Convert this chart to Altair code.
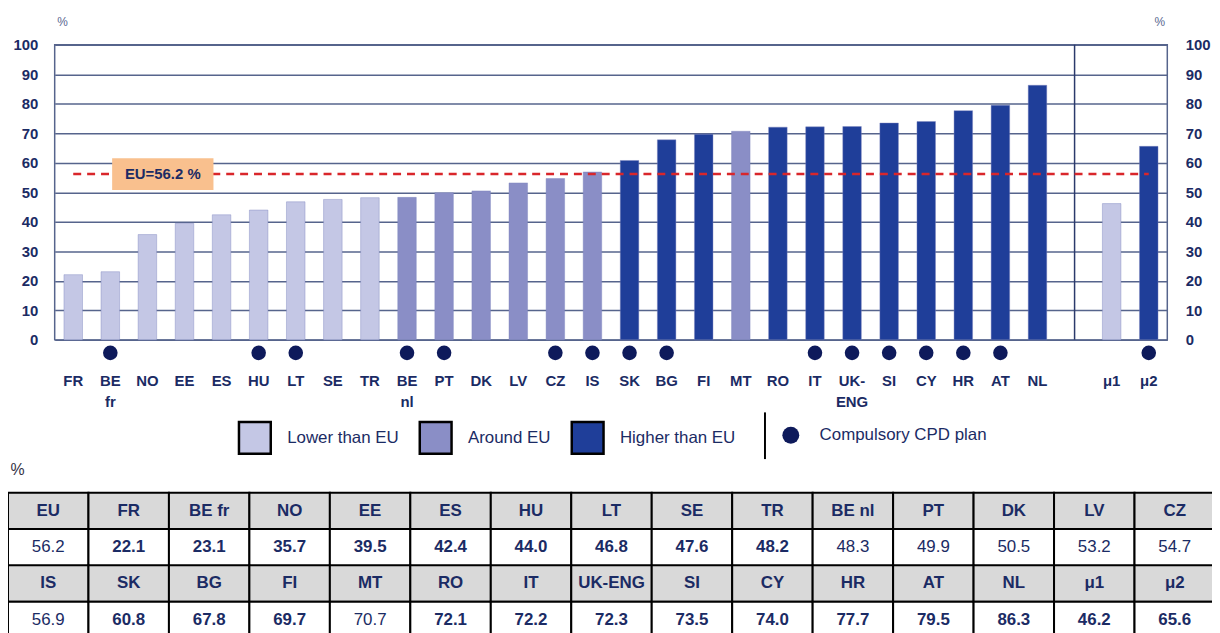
import altair as alt
import pandas as pd

# ---------------- data ----------------
countries = ["FR", "BE fr", "NO", "EE", "ES", "HU", "LT", "SE", "TR", "BE nl", "PT", "DK", "LV",
             "CZ", "IS", "SK", "BG", "FI", "MT", "RO", "IT", "UK-ENG", "SI", "CY", "HR", "AT", "NL"]
country_values = [22.1, 23.1, 35.7, 39.5, 42.4, 44.0, 46.8, 47.6, 48.2, 48.3, 49.9, 50.5, 53.2,
                  54.7, 56.9, 60.8, 67.8, 69.7, 70.7, 72.1, 72.2, 72.3, 73.5, 74.0, 77.7, 79.5, 86.3]
country_groups = ["Lower than EU"] * 9 + ["Around EU"] * 6 + ["Higher than EU"] * 3 + \
                 ["Around EU"] + ["Higher than EU"] * 8
avg_labels = ["μ1", "μ2"]
avg_values = [46.2, 65.6]
avg_groups = ["Lower than EU", "Higher than EU"]
eu_value = 56.2
compulsory = ["BE fr", "HU", "LT", "BE nl", "PT", "CZ", "IS", "SK", "BG", "IT", "UK-ENG",
              "SI", "CY", "HR", "AT", "μ2"]
# two-line tick labels of the category axis
tick_line1 = ["FR", "BE", "NO", "EE", "ES", "HU", "LT", "SE", "TR", "BE", "PT", "DK", "LV",
              "CZ", "IS", "SK", "BG", "FI", "MT", "RO", "IT", "UK-", "SI", "CY", "HR", "AT", "NL",
              "μ1", "μ2"]
tick_line2 = ["", "fr", "", "", "", "", "", "", "", "nl", "", "", "", "", "", "", "", "", "", "",
              "", "ENG", "", "", "", "", "", "", ""]
group_names = ["Lower than EU", "Around EU", "Higher than EU"]
group_colors = ["#C4C7E5", "#8A8EC6", "#1F3E99"]
y_ticks = [0, 10, 20, 30, 40, 50, 60, 70, 80, 90, 100]

table_row1_labels = ["EU"] + countries[:14]
table_row1_values = [eu_value] + country_values[:14]
table_row2_labels = countries[14:] + avg_labels
table_row2_values = country_values[14:] + avg_values

# ---------------- styles ----------------
NAVY = "#1B2B64"
GRID = "#56648C"
SANS = "Liberation Sans, Arial, sans-serif"

x_domain = countries + ["_gap"] + avg_labels
x_scale = alt.Scale(domain=x_domain, paddingInner=0.5, paddingOuter=0.25)
y_scale = alt.Scale(domain=[0, 100])

bars_df = pd.DataFrame({
    "category": countries + avg_labels,
    "value": country_values + avg_values,
    "group": country_groups + avg_groups,
})
ticks_df = pd.DataFrame({"category": countries + avg_labels, "l1": tick_line1, "l2": tick_line2})
dots_df = pd.DataFrame({"category": compulsory, "plan": ["Compulsory CPD plan"] * len(compulsory)})
eu_line_df = pd.DataFrame({"category": [countries[0], avg_labels[-1]], "value": [eu_value, eu_value]})
eu_box_df = pd.DataFrame({"category": ["NO"], "value": [eu_value], "top": [61.6], "bottom": [50.8],
                          "label": ["EU=56.2 %"]})
sep_df = pd.DataFrame({"category": ["_gap"], "lo": [0], "hi": [100]})

bars = alt.Chart(bars_df).mark_bar(stroke="#7E85BF", strokeWidth=0.6, strokeOpacity=0.7).encode(
    x=alt.X("category:N", scale=x_scale, sort=x_domain, axis=None),
    y=alt.Y("value:Q", scale=y_scale,
            axis=alt.Axis(values=y_ticks, title="%", titleAngle=0, titleX=2, titleY=-23,
                          titleAlign="left", titleBaseline="middle", titleFont=SANS,
                          titleFontSize=12, titleFontWeight="normal", titleColor="#5A6890",
                          grid=True, gridColor=GRID, gridWidth=1.5, gridOpacity=1,
                          domain=False, ticks=False, labelPadding=17, labelFont=SANS,
                          labelFontSize=15, labelFontWeight="bold", labelColor=NAVY)),
    color=alt.Color("group:N", scale=alt.Scale(domain=group_names, range=group_colors),
                    legend=alt.Legend(title=None, orient="none", legendX=184, legendY=378,
                                      direction="horizontal", symbolType="square", symbolSize=1024,
                                      symbolStrokeColor="black", symbolStrokeWidth=2.5,
                                      labelFont=SANS, labelFontSize=17, labelColor=NAVY,
                                      labelOffset=15, columnPadding=15, padding=0, labelLimit=400)),
)

right_axis = alt.Chart(bars_df).mark_rule(opacity=0).encode(
    y=alt.Y("value:Q", scale=y_scale,
            axis=alt.Axis(orient="right", values=y_ticks, title="%", titleAngle=0, titleX=-8,
                          titleY=-23, titleAlign="center", titleBaseline="middle", titleFont=SANS,
                          titleFontSize=12, titleFontWeight="normal", titleColor="#5A6890",
                          grid=False, domain=False, ticks=False, labelPadding=18, labelFont=SANS,
                          labelFontSize=15, labelFontWeight="bold", labelColor=NAVY)),
)

separator = alt.Chart(sep_df).mark_rule(color="#2B3A6B", strokeWidth=1.5).encode(
    x=alt.X("category:N", scale=x_scale, sort=x_domain, axis=None),
    y=alt.Y("lo:Q", scale=y_scale, axis=None),
    y2="hi:Q",
)

eu_line = alt.Chart(eu_line_df).mark_line(color="#D9262B", strokeDash=[8, 6], strokeWidth=2.5).encode(
    x=alt.X("category:N", scale=x_scale, sort=x_domain, axis=None),
    y=alt.Y("value:Q", scale=y_scale, axis=None),
)

eu_box = alt.Chart(eu_box_df).mark_bar(color="#F9C08E", size=102, xOffset=15.5).encode(
    x=alt.X("category:N", scale=x_scale, sort=x_domain, axis=None),
    y=alt.Y("top:Q", scale=y_scale, axis=None),
    y2="bottom:Q",
)

eu_text = alt.Chart(eu_box_df).mark_text(font=SANS, fontSize=15, fontWeight="bold", color=NAVY,
                                         dx=15.5, baseline="middle").encode(
    x=alt.X("category:N", scale=x_scale, sort=x_domain, axis=None),
    y=alt.Y("value:Q", scale=y_scale, axis=None),
    text="label:N",
)

dots = alt.Chart(dots_df).mark_point(filled=True, size=215, color="#0E1A5B", opacity=1).encode(
    x=alt.X("category:N", scale=x_scale, sort=x_domain, axis=None),
    y=alt.YDatum(-4.4, scale=y_scale, axis=None),
    shape=alt.Shape("plan:N", scale=alt.Scale(range=["circle"]),
                    legend=alt.Legend(title=None, orient="none", legendX=732, legendY=384,
                                      symbolType="circle", symbolSize=290, symbolFillColor="#2F3163",
                                      symbolStrokeWidth=0, labelFont=SANS, labelFontSize=17,
                                      labelColor=NAVY, labelOffset=20, padding=0, labelLimit=400)),
)

tick_text1 = alt.Chart(ticks_df).mark_text(font=SANS, fontSize=15, fontWeight="bold", color=NAVY,
                                           baseline="middle").encode(
    x=alt.X("category:N", scale=x_scale, sort=x_domain, axis=None),
    y=alt.YDatum(-13.9, scale=y_scale, axis=None),
    text="l1:N",
)
tick_text2 = alt.Chart(ticks_df).mark_text(font=SANS, fontSize=15, fontWeight="bold", color=NAVY,
                                           baseline="middle").encode(
    x=alt.X("category:N", scale=x_scale, sort=x_domain, axis=None),
    y=alt.YDatum(-21.0, scale=y_scale, axis=None),
    text="l2:N",
)

legend_sep = alt.Chart(pd.DataFrame({"k": [0]})).mark_rule(color="black", strokeWidth=2).encode(
    x=alt.value(715), y=alt.value(370), y2=alt.value(417),
)

main = alt.layer(bars, right_axis, separator, eu_line, eu_box, eu_text, dots, tick_text1, tick_text2,
                 legend_sep).resolve_axis(y="independent")

# ---------------- table ----------------
grp_of = dict(zip(countries + avg_labels, country_groups + avg_groups))
rows = []
for r, (labs, vals) in enumerate([(table_row1_labels, table_row1_values),
                                  (table_row2_labels, table_row2_values)]):
    for c, (lab, val) in enumerate(zip(labs, vals)):
        rows.append({"c0": c, "c1": c + 1, "r0": 2 * r, "r1": 2 * r + 1, "kind": "header",
                     "text": lab, "bold": True})
        bold = lab != "EU" and grp_of.get(lab) != "Around EU"
        rows.append({"c0": c, "c1": c + 1, "r0": 2 * r + 1, "r1": 2 * r + 2, "kind": "value",
                     "text": f"{val:.1f}", "bold": bold})
table_df = pd.DataFrame(rows)
table_df["cx"] = table_df["c0"] + 0.5
table_df["cy"] = table_df["r0"] + 0.5

tx = alt.Scale(domain=[0, 15], range=[-47, 1168])
ty = alt.Scale(domain=[0, 4], range=[451, 597])

cells = alt.Chart(table_df).mark_rect(stroke="black", strokeWidth=2).encode(
    x=alt.X("c0:Q", scale=tx, axis=None), x2="c1:Q",
    y=alt.Y("r0:Q", scale=ty, axis=None), y2="r1:Q",
    fill=alt.condition("datum.kind == 'header'", alt.value("#D9D9D9"), alt.value("#FFFFFF")),
)
bold_text = alt.Chart(table_df).transform_filter("datum.bold").mark_text(
    font=SANS, fontSize=17, fontWeight="bold", color=NAVY, baseline="middle").encode(
    x=alt.X("cx:Q", scale=tx, axis=None), y=alt.Y("cy:Q", scale=ty, axis=None), text="text:N")
norm_text = alt.Chart(table_df).transform_filter("!datum.bold").mark_text(
    font=SANS, fontSize=17, fontWeight="normal", color=NAVY, baseline="middle").encode(
    x=alt.X("cx:Q", scale=tx, axis=None), y=alt.Y("cy:Q", scale=ty, axis=None), text="text:N")
pct = alt.Chart(pd.DataFrame({"t": ["%"]})).mark_text(
    font=SANS, fontSize=16, color="#333344", baseline="middle").encode(
    x=alt.XDatum(0.12, scale=tx, axis=None), y=alt.YDatum(-0.62, scale=ty, axis=None), text="t:N")

table = alt.layer(cells, bold_text, norm_text, pct)

chart = alt.layer(main, table).resolve_scale(x="independent", y="independent").properties(
    width=1120, height=297,
    padding={"left": 47, "top": 35, "right": 45, "bottom": 293},
    autosize=alt.AutoSizeParams(type="none"),
    background="white",
).configure_view(stroke=GRID, strokeWidth=1.5)

chart.save("out.html", embed_options={"renderer": "svg", "actions": False})
